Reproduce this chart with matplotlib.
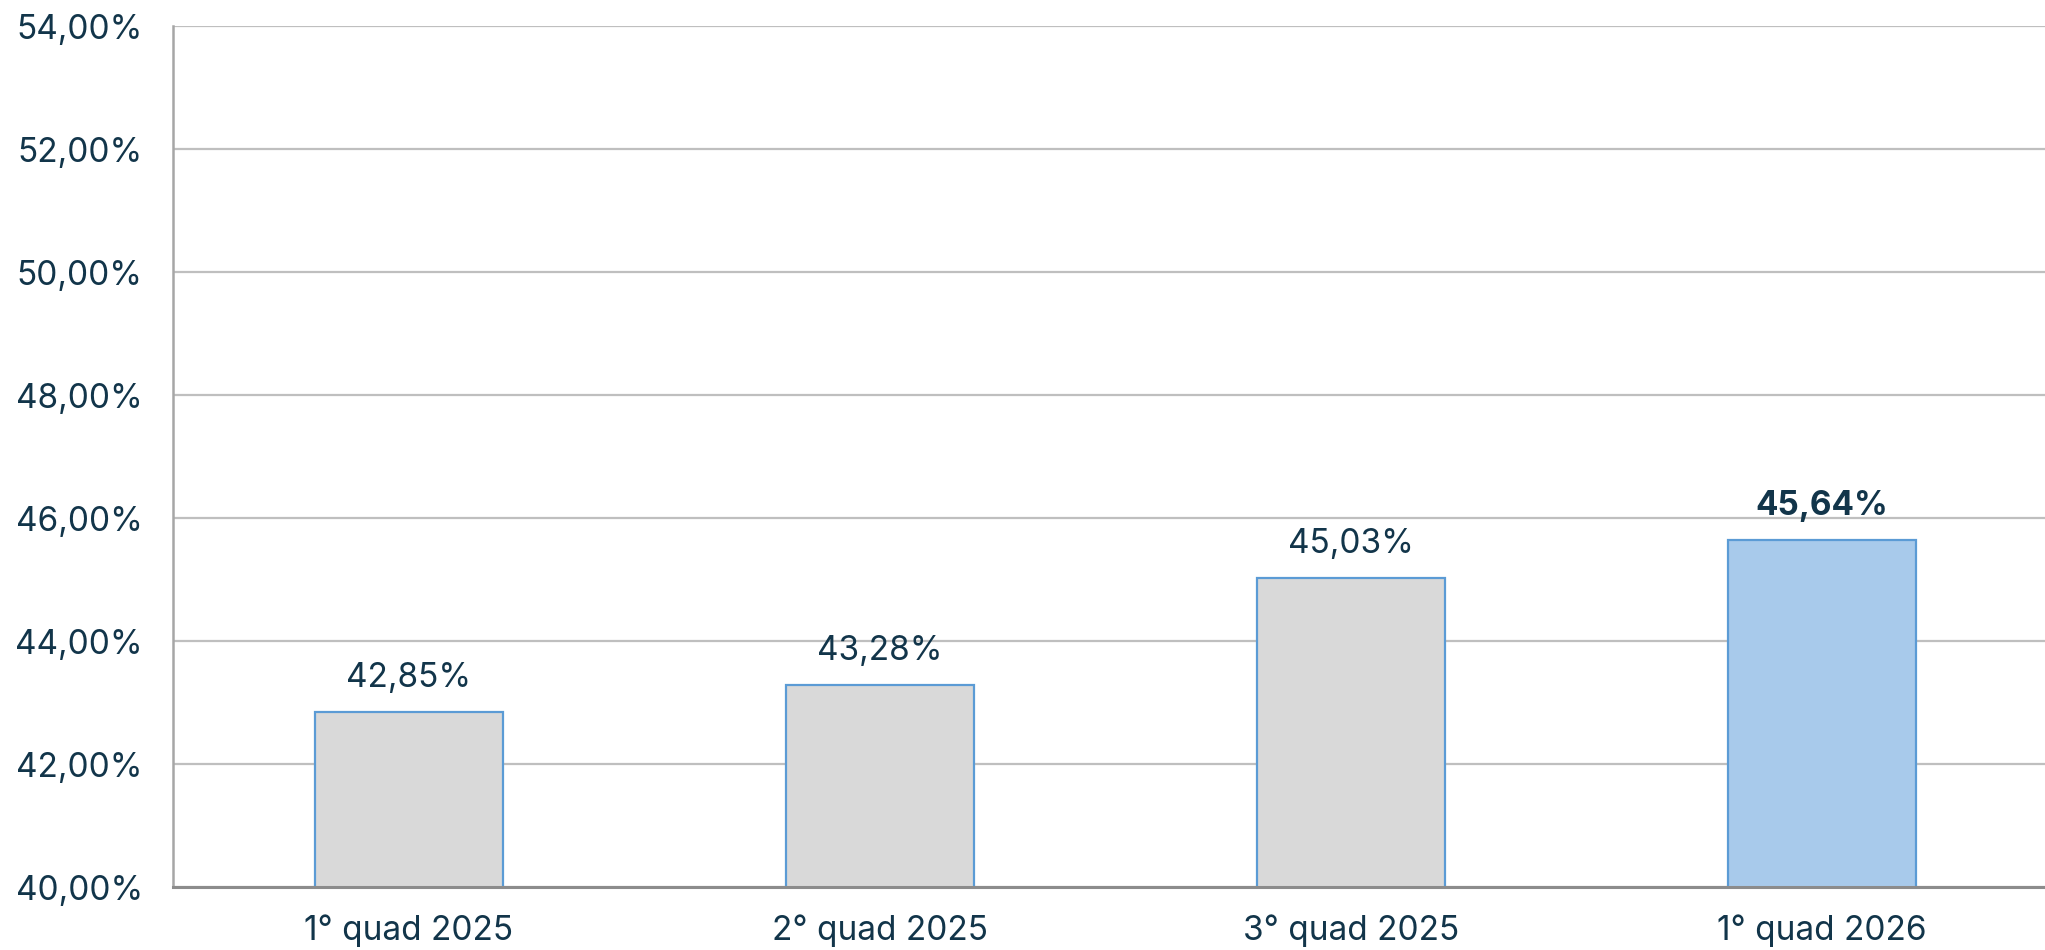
import matplotlib
matplotlib.use("Agg")
import matplotlib.pyplot as plt
from matplotlib.ticker import FixedLocator, FuncFormatter

categories = ["1° quad 2025", "2° quad 2025", "3° quad 2025", "1° quad 2026"]
values = [42.85, 43.28, 45.03, 45.64]
labels = ["42,85%", "43,28%", "45,03%", "45,64%"]
yticks = [40, 42, 44, 46, 48, 50, 52, 54]

plt.rcParams['font.family'] = ['Inter', 'DejaVu Sans']
text_color = "#12354A"

fig = plt.figure(figsize=(20.45, 9.5), dpi=100)
ax = fig.add_axes([0.0848, 0.0663, 0.9152, 0.9063])

x = list(range(len(categories)))
faces = ["#D9D9D9", "#D9D9D9", "#D9D9D9", "#A8CAEB"]
bars = ax.bar(x, values, width=0.4, color=faces, edgecolor="#5B9BD5", linewidth=1.6, zorder=2)

for i, (v, lab) in enumerate(zip(values, labels)):
    bold = (i == len(values) - 1)
    ax.annotate(lab, (x[i], v), xytext=(0, 13), textcoords="offset points",
                ha="center", va="bottom", fontsize=24, color=text_color,
                fontweight="bold" if bold else "normal")

ax.set_ylim(40, 54)
ax.set_xlim(-0.5, 3.474)
ax.yaxis.set_major_locator(FixedLocator(yticks))
ax.yaxis.set_major_formatter(FuncFormatter(lambda v, p: f"{v:.2f}".replace(".", ",") + "%"))
ax.set_xticks(x)
ax.set_xticklabels(categories)
ax.tick_params(axis="y", length=0, pad=22, labelsize=24, labelcolor=text_color)
ax.tick_params(axis="x", length=0, pad=20, labelsize=24, labelcolor=text_color)

ax.grid(axis="y", color="#BFBFBF", linewidth=1.6, zorder=0)
ax.set_axisbelow(True)
for s in ["top", "right"]:
    ax.spines[s].set_visible(False)
ax.spines["left"].set_color("#A6A6A6")
ax.spines["left"].set_linewidth(1.8)
ax.spines["bottom"].set_color("#8C8C8C")
ax.spines["bottom"].set_linewidth(2.2)
ax.spines["bottom"].set_zorder(3)

fig.savefig("out.png", dpi=100)
